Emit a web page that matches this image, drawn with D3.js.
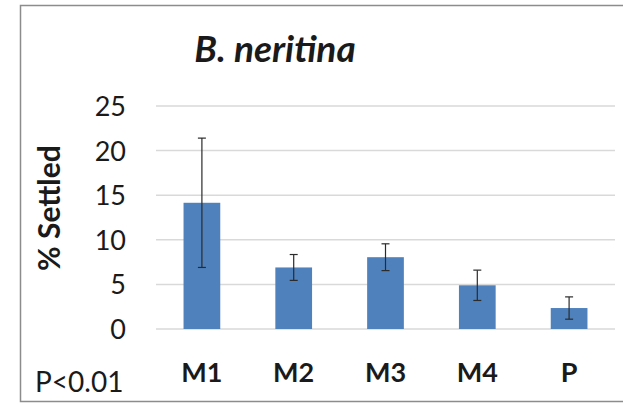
<!DOCTYPE html>
<html>
<head>
<meta charset="utf-8">
<script src="https://cdn.jsdelivr.net/npm/d3@7"></script>
<style>
  html, body { margin: 0; padding: 0; background: #fff; }
  svg { display: block; }
  text { font-family: Lato, "Open Sans", sans-serif; fill: #1a1a1a; }
</style>
</head>
<body>
<script>
// Settlement of B. neritina larvae per treatment (mean ± error)
const categories = ["M1", "M2", "M3", "M4", "P"];
const means = [14.15, 6.9, 8.05, 4.9, 2.35];
const errors = [7.25, 1.45, 1.5, 1.7, 1.25];
const yTicks = [0, 5, 10, 15, 20, 25];

const W = 623, H = 403;
const plot = { left: 156, right: 615, top: 106, bottom: 329 };

const svg = d3.select("body").append("svg")
  .attr("width", W).attr("height", H);

svg.append("rect").attr("width", W).attr("height", H).attr("fill", "#fff");

// outer frame
svg.append("path")
  .attr("d", `M${W + 2},5.5 H20.5 V401.5 H${W + 2}`)
  .attr("fill", "none")
  .attr("stroke", "#8c8c8c")
  .attr("stroke-width", 1.5);

const x = d3.scaleBand()
  .domain(categories)
  .range([plot.left, plot.right])
  .paddingInner(0.6)
  .paddingOuter(0.3);

const y = d3.scaleLinear().domain([0, 25]).range([plot.bottom, plot.top]);

// horizontal gridlines
svg.append("g")
  .selectAll("line")
  .data(yTicks)
  .join("line")
  .attr("x1", plot.left).attr("x2", plot.right)
  .attr("y1", d => y(d)).attr("y2", d => y(d))
  .attr("stroke", "#d9d9d9")
  .attr("stroke-width", 1.5);

// y-axis tick labels
const yAxis = d3.axisLeft(y).tickValues(yTicks).tickSize(0).tickPadding(0);
const gy = svg.append("g").attr("transform", `translate(${plot.left - 30},0)`).call(yAxis);
gy.select(".domain").remove();
gy.selectAll("text")
  .style("font-family", "Lato, 'Open Sans', sans-serif")
  .style("font-size", "27px")
  .attr("fill", "#1a1a1a")
  .attr("dy", "0.35em");

// bars
svg.append("g")
  .selectAll("rect")
  .data(categories)
  .join("rect")
  .attr("x", d => x(d))
  .attr("width", x.bandwidth())
  .attr("y", (d, i) => y(means[i]))
  .attr("height", (d, i) => y(0) - y(means[i]))
  .attr("fill", "#4f81bd");

// error bars
const eb = svg.append("g")
  .attr("stroke", "#2b2b2b")
  .attr("stroke-width", 1.2)
  .selectAll("g")
  .data(categories)
  .join("g")
  .attr("transform", d => `translate(${x(d) + x.bandwidth() / 2},0)`);
eb.append("line")
  .attr("y1", (d, i) => y(means[i] + errors[i]))
  .attr("y2", (d, i) => y(means[i] - errors[i]));
eb.append("line")
  .attr("x1", -4).attr("x2", 4)
  .attr("y1", (d, i) => y(means[i] + errors[i]))
  .attr("y2", (d, i) => y(means[i] + errors[i]));
eb.append("line")
  .attr("x1", -4).attr("x2", 4)
  .attr("y1", (d, i) => y(means[i] - errors[i]))
  .attr("y2", (d, i) => y(means[i] - errors[i]));

// x-axis category labels
const xAxis = d3.axisBottom(x).tickSize(0).tickPadding(0);
const gx = svg.append("g").attr("transform", `translate(0,${plot.bottom + 53})`).call(xAxis);
gx.select(".domain").remove();
gx.selectAll("text")
  .attr("dy", "0")
  .style("font-family", "Lato, 'Open Sans', sans-serif")
  .style("font-size", "27px")
  .style("font-weight", "bold")
  .attr("fill", "#1a1a1a");

// title
svg.append("text")
  .attr("x", 275).attr("y", 62)
  .attr("text-anchor", "middle")
  .style("font-size", "37px")
  .style("font-weight", "bold")
  .style("font-style", "italic")
  .text("B. neritina");

// y-axis title
svg.append("text")
  .attr("transform", "translate(60,208) rotate(-90)")
  .attr("text-anchor", "middle")
  .style("font-size", "30px")
  .style("font-weight", "bold")
  .text("% Settled");

// significance note
svg.append("text")
  .attr("x", 35).attr("y", 392)
  .style("font-size", "28px")
  .text("P<0.01");
</script>
</body>
</html>
